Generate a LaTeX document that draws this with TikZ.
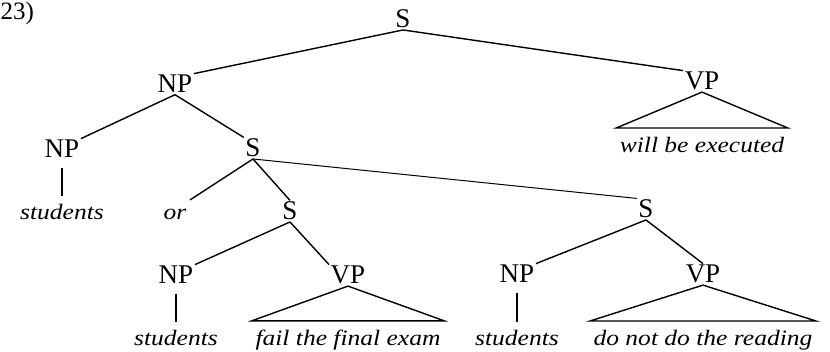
\documentclass[tikz,border=0pt]{standalone}
\usepackage{fontspec}
\setmainfont{Liberation Serif}
\newfontfamily\catfont{Liberation Serif}
\newfontfamily\wordfont[ItalicFeatures={FakeStretch=1.16}]{Liberation Serif}
\begin{document}
\begin{tikzpicture}[x=1pt,y=-1pt,line width=1.4pt,
  cat/.style={anchor=base,inner sep=1pt,font=\catfont\fontsize{27}{30}\selectfont},
  word/.style={anchor=base,inner xsep=3pt,inner ysep=9pt,font=\wordfont\itshape\fontsize{22}{26}\selectfont},
  lbl/.style={anchor=base west,inner sep=0pt,font=\catfont\fontsize{25}{28}\selectfont},
  stem/.style={shorten <=8pt,shorten >=-1pt}]
\useasboundingbox (0,0) rectangle (830,352);
\node[lbl] (num) at (0,20) {23)};
% category nodes
\node[cat] (s0) at (403,28) {S};
\node[cat] (np1) at (175,93) {NP};
\node[cat] (vp1) at (702,90) {VP};
\node[cat] (np2) at (62,158) {NP};
\node[cat] (s1) at (253,157) {S};
\node[word] (or) at (175,220) {or};
\node[cat] (s2) at (290,220) {S};
\node[cat] (s3) at (646,218) {S};
\node[cat] (np3) at (176,284) {NP};
\node[cat] (vp2) at (348,284) {VP};
\node[cat] (np4) at (517,283) {NP};
\node[cat] (vp3) at (703,283) {VP};
% words
\node[word] (w1) at (702,153) {will be executed};
\node[word] (w2) at (62,220) {students};
\node[word] (w3) at (176,346) {students};
\node[word] (w4) at (348,346) {fail the final exam};
\node[word] (w5) at (517,346) {students};
\node[word] (w6) at (703,346) {do not do the reading};
% branches
\draw (s0.south) -- (np1.north east);
\draw (s0.south) -- (vp1.north west);
\draw (np1.south) -- (np2.north east);
\draw (np1.south) -- (s1.north west);
\draw[stem] (np2.south) -- (w2.north);
\draw (s1.south) -- (or.north east);
\draw (s1.south) -- (s2.north);
\draw[line width=1pt] (s1.south) -- (s3.north west);
\draw (s2.south) -- (np3.north east);
\draw (s2.south) -- (vp2.north west);
\draw[stem] (np3.south) -- (w3.north);
\draw (s3.south) -- (np4.north east);
\draw (s3.south) -- (vp3.north);
\draw[stem] (np4.south) -- (w5.north);
\draw (vp1.south) -- (w1.north west) -- (w1.north east) -- cycle;
\draw (vp2.south) -- (w4.north west) -- (w4.north east) -- cycle;
\draw (vp3.south) -- (w6.north west) -- (w6.north east) -- cycle;
\end{tikzpicture}
\end{document}
